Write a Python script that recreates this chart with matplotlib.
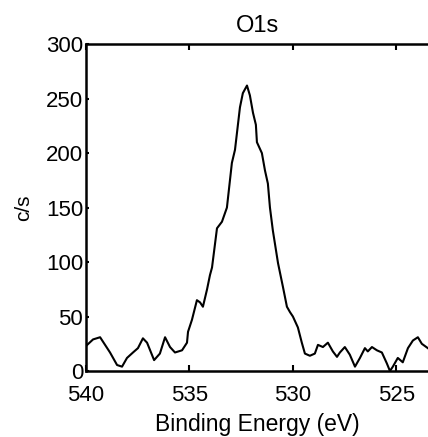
import matplotlib
matplotlib.use("Agg")
import matplotlib.pyplot as plt

# O1s spectrum
binding_energy = [540.0, 539.66, 539.32, 538.84, 538.50, 538.26, 538.02, 537.73, 537.49, 537.25,
                  537.05, 536.71, 536.43, 536.18, 535.94, 535.70, 535.36, 535.12, 535.07, 534.88,
                  534.64, 534.49, 534.35, 534.15, 534.01, 533.91, 533.67, 533.43, 533.19, 532.95,
                  532.80, 532.56, 532.42, 532.22, 532.08, 531.93, 531.79, 531.74, 531.50, 531.35,
                  531.21, 531.11, 530.97, 530.72, 530.48, 530.29, 530.14, 530.00, 529.76, 529.57,
                  529.42, 529.18, 528.94, 528.79, 528.55, 528.31, 528.07, 527.87, 527.73, 527.49,
                  527.25, 527.00, 526.76, 526.52, 526.38, 526.18, 525.94, 525.70, 525.46, 525.31,
                  525.17, 524.93, 524.69, 524.44, 524.20, 523.96, 523.77, 523.48]
counts = [23, 29, 31, 17, 5.5, 4, 12, 17, 21, 30,
          26, 10, 16, 31, 22, 17, 19, 26, 36, 47,
          65, 63, 59, 75, 88, 95, 131, 137, 150, 191,
          203, 242, 255, 262, 253, 237, 226, 210, 200, 184,
          172, 150, 129, 99, 77, 59, 54, 50, 40, 26,
          16, 14, 16, 24, 22, 26, 18, 13, 17, 22,
          15, 4, 12, 21, 18, 22, 19, 17, 7, 0,
          4, 12, 8, 21, 28, 31, 25, 21]

x_ticks = [540, 535, 530, 525]
y_ticks = [0, 50, 100, 150, 200, 250, 300]

plt.rcParams['font.family'] = ['Liberation Sans', 'DejaVu Sans']

fig = plt.figure(figsize=(4.28, 4.37), dpi=100)
ax = fig.add_axes([0.201, 0.151, 0.80, 0.748])

ax.plot(binding_energy, counts, color='black', linewidth=1.5)

ax.set_xlim(540, 523.45)
ax.set_ylim(0, 300)
ax.set_xticks(x_ticks)
ax.set_yticks(y_ticks)

ax.tick_params(direction='in', length=4, width=1.5, labelsize=16)
ax.tick_params(axis='x', top=True, pad=10)
ax.tick_params(axis='y', right=False, pad=2, length=2)
ax.spines['right'].set_visible(False)
for side in ['left', 'bottom', 'top']:
    ax.spines[side].set_linewidth(1.8)

ax.set_title('O1s', fontsize=17, pad=9)
ax.set_xlabel('Binding Energy (eV)', fontsize=16.5, labelpad=5)
ax.set_ylabel('c/s', fontsize=15, labelpad=9)

fig.savefig('out.png', dpi=100)
